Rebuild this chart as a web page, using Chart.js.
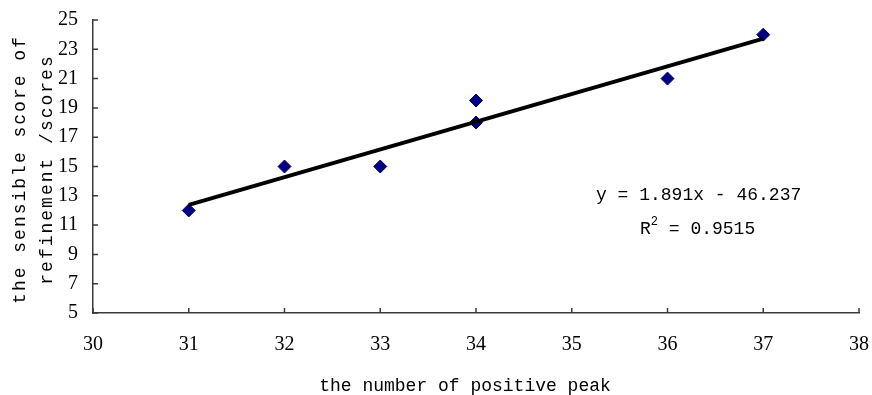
<!DOCTYPE html>
<html>
<head>
<meta charset="utf-8">
<script src="https://cdn.jsdelivr.net/npm/chart.js@4"></script>
<style>
  html, body { margin: 0; padding: 0; background: #fff; }
  canvas { display: block; }
</style>
</head>
<body>
<canvas id="c" width="872" height="395"></canvas>
<script>
// Measurements: number of positive peaks vs. sensory refinement score
const peakCounts = [31, 32, 33, 34, 34, 36, 37];
const refinementScores = [12, 15, 15, 19.5, 18, 21, 24];

// Axis ranges and tick spacing
const xRange = [30, 38];
const xStep = 1;
const yRange = [5, 25];
const yStep = 2;

// Linear trendline as reported on the chart
const trendSlope = 1.891;
const trendIntercept = -46.237;
const trendR2 = '0.9515';

const xTitle = 'the number of positive peak';
const yTitleLines = ['the sensible score of', 'refinement /scores'];

const axisColor = '#3a3a3a';
const markerColor = '#000080';
const monoFont = '"Liberation Mono", "DejaVu Sans Mono", monospace';
const tickFont = '"Liberation Serif", "DejaVu Serif", serif';

const xFirst = Math.min(...peakCounts);
const xLast = Math.max(...peakCounts);
const trendPoints = [
  { x: xFirst, y: trendSlope * xFirst + trendIntercept },
  { x: xLast, y: trendSlope * xLast + trendIntercept }
];
const samplePoints = peakCounts.map((p, i) => ({ x: p, y: refinementScores[i] }));

// Inside tick marks, axis titles and the regression label
const decorations = {
  id: 'decorations',
  afterDraw(chart) {
    const { ctx, chartArea: a, scales: { x, y } } = chart;
    ctx.save();

    ctx.strokeStyle = axisColor;
    ctx.lineWidth = 1.5;
    ctx.beginPath();
    x.ticks.forEach(t => {
      const px = x.getPixelForValue(t.value);
      ctx.moveTo(px, a.bottom);
      ctx.lineTo(px, a.bottom - 5);
    });
    y.ticks.forEach(t => {
      const py = y.getPixelForValue(t.value);
      ctx.moveTo(a.left, py);
      ctx.lineTo(a.left + 5, py);
    });
    ctx.stroke();

    ctx.fillStyle = '#000';
    ctx.font = '18px ' + monoFont;
    ctx.textBaseline = 'middle';

    // x axis title
    ctx.textAlign = 'center';
    ctx.fillText(xTitle, (a.left + a.right) / 2 - 11, 386);

    // y axis title, two lines rotated
    const cy = (a.top + a.bottom) / 2 + 3;
    ctx.save();
    ctx.letterSpacing = '2px';
    [20, 47].forEach((lx, i) => {
      ctx.save();
      ctx.translate(lx, cy);
      ctx.rotate(-Math.PI / 2);
      ctx.fillText(yTitleLines[i], 0, 0);
      ctx.restore();
    });
    ctx.restore();

    // regression equation
    ctx.textAlign = 'left';
    const eq = 'y = ' + trendSlope + 'x ' + (trendIntercept < 0 ? '- ' : '+ ') + Math.abs(trendIntercept);
    ctx.fillText(eq, a.right - 263, a.top + 175);

    let rx = a.right - 219;
    const ry = a.top + 209;
    ctx.fillText('R', rx, ry);
    rx += ctx.measureText('R').width;
    ctx.font = '12px ' + monoFont;
    ctx.fillText('2', rx, ry - 7);
    rx += ctx.measureText('2').width;
    ctx.font = '18px ' + monoFont;
    ctx.fillText(' = ' + trendR2, rx, ry);

    ctx.restore();
  }
};

new Chart(document.getElementById('c'), {
  type: 'scatter',
  data: {
    datasets: [
      {
        type: 'line',
        data: trendPoints,
        borderColor: '#000',
        borderWidth: 4,
        pointRadius: 0,
        fill: false,
        order: 0
      },
      {
        data: samplePoints,
        pointStyle: 'rectRot',
        pointRadius: 6.5,
        pointBackgroundColor: markerColor,
        pointBorderColor: markerColor,
        pointBorderWidth: 1,
        order: 1
      }
    ]
  },
  options: {
    responsive: false,
    animation: false,
    layout: { padding: { left: 43, right: 13, top: 20, bottom: 18 } },
    plugins: {
      legend: { display: false },
      tooltip: { enabled: false }
    },
    scales: {
      x: {
        type: 'linear',
        min: xRange[0],
        max: xRange[1],
        grid: { display: false, drawTicks: false },
        border: { display: true, color: axisColor, width: 1.5 },
        ticks: {
          stepSize: xStep,
          padding: 3,
          color: '#000',
          font: { family: tickFont, size: 20, lineHeight: 2.9 }
        }
      },
      y: {
        type: 'linear',
        min: yRange[0],
        max: yRange[1],
        grid: { display: false, drawTicks: false },
        border: { display: true, color: axisColor, width: 1.5 },
        ticks: {
          stepSize: yStep,
          padding: 15,
          color: '#000',
          font: { family: tickFont, size: 20, lineHeight: 0.4 }
        }
      }
    }
  },
  plugins: [decorations]
});
</script>
</body>
</html>
